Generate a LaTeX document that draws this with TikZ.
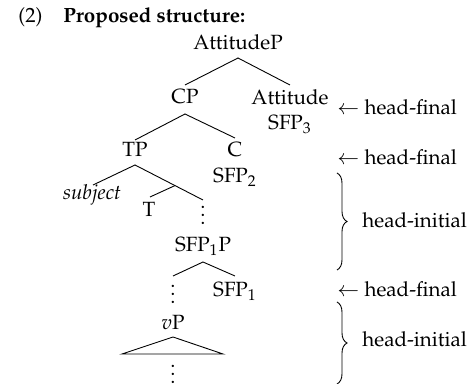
\documentclass[tikz,border=0pt]{standalone}
\usepackage[T1]{fontenc}
\usepackage{mathpazo}
\usetikzlibrary{decorations.pathreplacing,calc}

% three stacked dots, without the extra space that \vdots keeps above them
\newcommand{\tightvdots}{\vbox{\baselineskip4pt\lineskiplimit0pt\hbox{.}\hbox{.}\hbox{.}}}

\tikzset{
  lbl/.style={inner sep=0pt, anchor=base, font=\fontsize{10.3}{12.4}\selectfont},
  lblw/.style={lbl, anchor=base west},
  branch/.style={line width=0.45pt},
  rbrace/.style={decorate, decoration={brace, amplitude=5pt, aspect=0.5}, line width=0.45pt},
}

\begin{document}
\begin{tikzpicture}[x=0.5pt, y=-0.5pt]
  \useasboundingbox (0,0) rectangle (468,384);

  % example number and heading
  \node[lblw] (num) at (18,23) {(2)};
  \node[lblw] (head) at (63,23) {\textbf{Proposed structure:}};

  % labels of the tree
  \node[lbl] (attp) at (238,50) {AttitudeP};
  \node[lbl] (cp)   at (185,104) {CP};
  \node[lbl] (att)  at (290,105) {Attitude};
  \node[lbl] (sfp3) at (290,130) {SFP$_3$};
  \node[lbl] (tp)   at (135,157) {TP};
  \node[lbl] (c)    at (235,157) {C};
  \node[lbl] (sfp2) at (235,183) {SFP$_2$};
  \node[lbl] (subj) at (92,200) {\textit{subject}};
  \node[lbl] (t)    at (149,217) {T};
  \node[lbl] (dotsA) at (203,225) {\tightvdots};
  \node[lbl] (sfp1p) at (203,252) {SFP$_1$P};
  \node[lbl] (sfp1) at (235,297) {SFP$_1$};
  \node[lbl] (dotsB) at (173,304) {\tightvdots};
  \node[lbl] (vp)   at (173,330) {$v$P};
  \node[lbl] (dotsC) at (173,384) {\tightvdots};

  % branch points and branch ends
  \coordinate (attpTop) at (238,58);
  \coordinate (cpEnd)   at (185,85);
  \coordinate (attEnd)  at (290,85);
  \coordinate (cpTop)   at (185,114);
  \coordinate (tpEnd)   at (135,140);
  \coordinate (cEnd)    at (235,138);
  \coordinate (tpTop)   at (135,165);
  \coordinate (subjEnd) at (93,185);
  \coordinate (tbarEnd) at (203,200);
  \coordinate (tbar)    at ($(tpTop)!0.588!(tbarEnd)$);
  \coordinate (tEnd)    at (150,197);
  \coordinate (sfpTop)  at (203,262);
  \coordinate (dotsEnd) at (173,276);
  \coordinate (sfp1End) at (235,276);
  \coordinate (vpTop)   at (173,337);
  \coordinate (vpL)     at (122,354);
  \coordinate (vpR)     at (223,354);

  \draw[branch] (cpEnd) -- (attpTop) -- (attEnd);
  \draw[branch] (tpEnd) -- (cpTop) -- (cEnd);
  \draw[branch] (subjEnd) -- (tpTop) -- (tbarEnd);
  \draw[branch] (tbar) -- (tEnd);
  \draw[branch] (dotsEnd) -- (sfpTop) -- (sfp1End);
  \draw[branch] (vpTop) -- (vpL) -- (vpR) -- cycle;

  % annotations on the right
  \node[lblw] (hf1) at (337,115) {$\leftarrow$ head-final};
  \node[lblw] (hf2) at (337,165) {$\leftarrow$ head-final};
  \node[lblw] (hf3) at (337,297) {$\leftarrow$ head-final};
  \node[lblw] (hi1) at (362,228) {head-initial};
  \node[lblw] (hi2) at (362,347) {head-initial};

  \coordinate (b1Top) at (337,173);
  \coordinate (b1Bot) at (337,270);
  \coordinate (b2Top) at (337,302);
  \coordinate (b2Bot) at (337,384);
  \draw[rbrace] (b1Top) -- (b1Bot);
  \draw[rbrace] (b2Top) -- (b2Bot);
\end{tikzpicture}
\end{document}
